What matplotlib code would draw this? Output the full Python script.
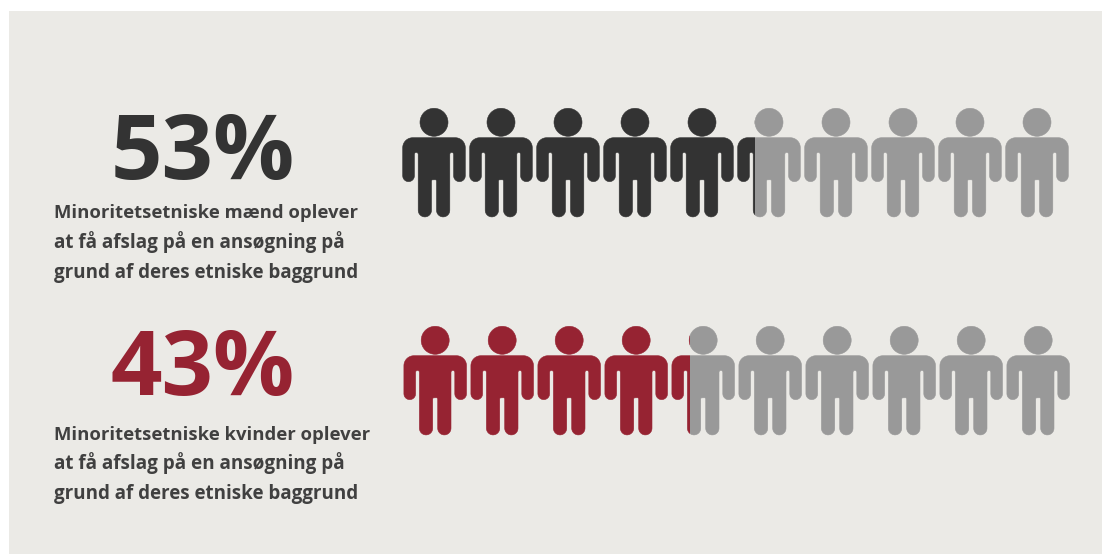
import numpy as np
import matplotlib
matplotlib.use("Agg")
import matplotlib.pyplot as plt
from matplotlib.path import Path
from matplotlib.patches import PathPatch, Rectangle
from matplotlib.transforms import Affine2D

# --- data ---
percent_labels = ["53%", "43%"]
percent_values = [53, 43]
descriptions = [
    ["Minoritetsetniske mænd oplever", "at få afslag på en ansøgning på", "grund af deres etniske baggrund"],
    ["Minoritetsetniske kvinder oplever", "at få afslag på en ansøgning på", "grund af deres etniske baggrund"],
]
people_per_row = 10

# --- styles ---
BG = "#EBEAE6"
GREY = "#999999"
ROW_COLORS = ["#333333", "#962332"]
TEXT_COLOR = "#404040"
FONT = "Open Sans"
W, H = 1102, 554


def arc(cx, cy, r, a0, a1, n=14):
    t = np.radians(np.linspace(a0, a1, n))
    return np.column_stack([cx + r * np.cos(t), cy + r * np.sin(t)])


def person_path():
    """Pictogram in pixel units: origin at body centre / top of shoulders, y down."""
    right = np.vstack([
        [[0, 0]],
        arc(21.3, 10, 10, -90, 0),            # shoulder
        arc(25.45, 38.1, 5.85, 0, 180),       # arm end
        arc(17.7, 16.6, 1.9, 0, -180, n=8),   # armpit
        arc(9.15, 72.6, 6.65, 0, 180),        # leg end
        arc(1.25, 43.3, 1.25, 0, -90, n=5),   # crotch
    ])
    left = right[::-1] * [-1, 1]
    outline = np.vstack([right, left[1:]])
    codes = [Path.MOVETO] + [Path.LINETO] * (len(outline) - 2) + [Path.CLOSEPOLY]
    body = Path(outline, codes)
    head = Path.circle((0, -15.4), 14.0)
    return Path.make_compound_path(body, head)


fig = plt.figure(figsize=(W / 100, H / 100), dpi=100, facecolor="white")
ax = fig.add_axes([0, 0, 1, 1])
ax.set_xlim(0, W)
ax.set_ylim(H, 0)
ax.axis("off")
ax.add_patch(Rectangle((9, 11), W - 9, H - 11, facecolor=BG, edgecolor="none", zorder=0))

shape = person_path()
row_left = [402.7, 403.9]
row_top = [137.7, 355.7]
pitch = 67.0
row_width = pitch * (people_per_row - 1) + 62.6

for r, value in enumerate(percent_values):
    cut = row_left[r] + row_width * value / 100
    clip_on = Rectangle((row_left[r] - 2, 0), cut - row_left[r] + 2, H, transform=ax.transData)
    clip_off = Rectangle((cut, 0), W - cut, H, transform=ax.transData)
    for i in range(people_per_row):
        cx = row_left[r] + 31.3 + pitch * i
        tr = Affine2D().translate(cx, row_top[r]) + ax.transData
        on = PathPatch(shape, facecolor=ROW_COLORS[r], edgecolor=ROW_COLORS[r], linewidth=0.4,
                       transform=tr, zorder=2)
        ax.add_patch(on)
        on.set_clip_path(clip_on)
        off = PathPatch(shape, facecolor=GREY, edgecolor=GREY, linewidth=0.4,
                        transform=tr, zorder=2)
        ax.add_patch(off)
        off.set_clip_path(clip_off)

big_x = [202.5, 203]
big_base = [178.5, 395]
line_base = [[218.5, 248, 278], [439.5, 469, 499]]
line_size = [13.3, 13.6, 13.5]
for r, label in enumerate(percent_labels):
    ax.text(big_x[r], big_base[r], label, ha="center", va="baseline", fontsize=65,
            fontweight="bold", family=FONT, color=ROW_COLORS[r], zorder=3)
    for line, y, size in zip(descriptions[r], line_base[r], line_size):
        ax.text(54, y, line, ha="left", va="baseline", fontsize=size, fontweight="bold",
                family=FONT, color=TEXT_COLOR, zorder=3)

fig.savefig("out.png", dpi=100, facecolor="white")
